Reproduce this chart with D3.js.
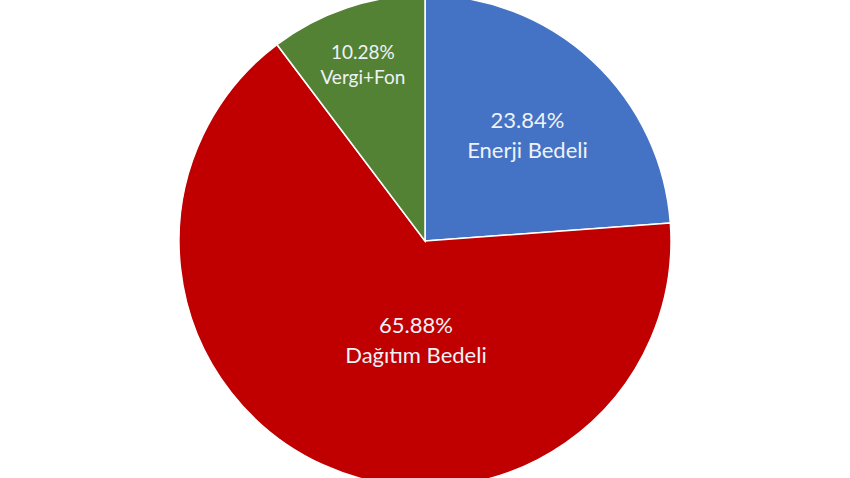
<!DOCTYPE html>
<html>
<head>
<meta charset="utf-8">
<script src="https://cdn.jsdelivr.net/npm/d3@7"></script>
<style>
  body { margin: 0; background: #fff; }
  svg text { font-family: Lato, "Open Sans", sans-serif; }
</style>
</head>
<body>
<div id="chart"></div>
<script>
// slice data
var categories = ["Enerji Bedeli", "Dağıtım Bedeli", "Vergi+Fon"];
var values = [23.84, 65.88, 10.28];
var colors = ["#4472C4", "#C00000", "#548235"];

var svgWidth = 850;
var svgHeight = 478;
var cx = 425, cy = 241, radius = 246;

// where each label sits: angle (rad, clockwise from top), fraction of radius, font size
var labelPlace = [[0.808, 0.576, 22], [3.226, 0.437, 22], [5.932, 0.734, 19]];

var svg = d3.select("#chart")
  .append("svg")
  .attr("width", svgWidth)
  .attr("height", svgHeight);

var g = svg.append("g")
  .attr("transform", `translate(${cx}, ${cy})`);

var pie = d3.pie()
  .sort(null)
  .value(d => d);

var arc = d3.arc()
  .innerRadius(0)
  .outerRadius(radius);

var arcs = pie(values);

g.selectAll("path")
  .data(arcs)
  .enter()
  .append("path")
  .attr("d", arc)
  .attr("fill", (d, i) => colors[i])
  .attr("stroke", "#fff")
  .attr("stroke-width", 1.5);

var labels = g.selectAll("g.lbl")
  .data(arcs)
  .enter()
  .append("g")
  .attr("class", "lbl")
  .attr("transform", function (d, i) {
    var a = labelPlace[i][0], r = labelPlace[i][1] * radius;
    return `translate(${Math.sin(a) * r}, ${-Math.cos(a) * r})`;
  });

labels.append("text")
  .attr("y", (d, i) => -labelPlace[i][2] * 0.68)
  .style("font-size", (d, i) => labelPlace[i][2] + "px")
  .style("text-anchor", "middle")
  .style("fill", "#eef2f8")
  .text(d => d.value.toFixed(2) + "%");

labels.append("text")
  .attr("y", (d, i) => labelPlace[i][2] * 0.68)
  .style("font-size", (d, i) => labelPlace[i][2] + "px")
  .style("text-anchor", "middle")
  .style("fill", "#eef2f8")
  .text((d, i) => categories[i]);
</script>
</body>
</html>
